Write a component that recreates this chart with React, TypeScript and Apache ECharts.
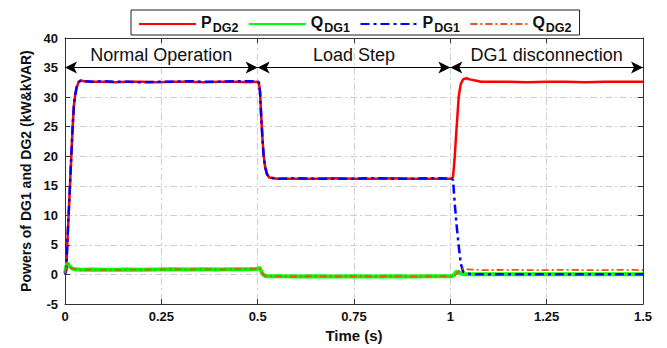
import React, { useEffect, useRef } from "react";
import * as echarts from "echarts";

// Simulation time stamps (s)
const time = [
  0, 0.003, 0.006, 0.0095, 0.013, 0.0165, 0.02, 0.023, 0.026, 0.03, 0.035, 0.041, 0.05,
  0.07, 0.1, 0.13, 0.16, 0.2, 0.24, 0.28, 0.32, 0.36, 0.4, 0.44, 0.48, 0.499,
  0.503, 0.506, 0.509, 0.512, 0.515, 0.519, 0.524, 0.53, 0.55,
  0.6, 0.65, 0.7, 0.75, 0.8, 0.85, 0.9, 0.95, 1.003,
  1.007, 1.011, 1.016, 1.022, 1.027, 1.033, 1.042, 1.05, 1.065, 1.08,
  1.1, 1.15, 1.2, 1.25, 1.3, 1.35, 1.4, 1.45, 1.5,
];

// Active power of DG2 (kW)
const pDG2 = [
  0, 0.8, 5.2, 10.2, 15.2, 20.2, 25.2, 28.5, 30.2, 31.6, 32.5, 32.8, 32.7,
  32.6, 32.6, 32.5, 32.6, 32.6, 32.5, 32.6, 32.6, 32.5, 32.6, 32.6, 32.5, 32.6,
  32.5, 31, 27, 23.5, 20.5, 18.3, 17, 16.4, 16.2,
  16.2, 16.2, 16.3, 16.2, 16.2, 16.3, 16.2, 16.2, 16.2,
  16.5, 19.5, 24.6, 30.2, 32.2, 33, 33.2, 33.0, 32.8, 32.6,
  32.6, 32.6, 32.5, 32.6, 32.6, 32.5, 32.6, 32.6, 32.6,
];

// Active power of DG1 (kW)
const pDG1 = [
  0, 0.8, 5.2, 10.2, 15.2, 20.2, 25.2, 28.5, 30.2, 31.6, 32.5, 32.8, 32.7,
  32.6, 32.7, 32.6, 32.6, 32.5, 32.6, 32.6, 32.7, 32.6, 32.6, 32.7, 32.7, 32.7,
  32.5, 31, 27, 23.5, 20.5, 18.3, 17, 16.4, 16.2,
  16.3, 16.2, 16.2, 16.2, 16.3, 16.2, 16.2, 16.3, 16.2,
  16, 12.4, 8.5, 4.7, 1.9, 0.5, 0.2, 0.1, 0.05, 0.05,
  0.05, 0.05, 0.05, 0.05, 0.05, 0.05, 0.05, 0.05, 0.05,
];

// Reactive power of DG1 (kVAR)
const qDG1 = [
  0.2, 1.2, 1.9, 1.6, 1.3, 1.1, 1.0, 0.95, 0.9, 0.85, 0.85, 0.8, 0.8,
  0.85, 0.8, 0.8, 0.85, 0.8, 0.85, 0.9, 0.85, 0.9, 0.85, 0.9, 0.9, 0.95,
  1.15, 1.0, 0.6, 0.2, -0.05, -0.2, -0.3, -0.3, -0.3,
  -0.35, -0.3, -0.35, -0.3, -0.35, -0.3, -0.35, -0.3, -0.3,
  -0.2, 0.1, 0.5, 0.35, 0.2, 0.1, 0.05, 0.05, 0.05, 0.05,
  0.05, 0.05, 0.05, 0.05, 0.05, 0.05, 0.05, 0.05, 0.05,
];

// Reactive power of DG2 (kVAR)
const qDG2 = [
  0.2, 1.2, 1.9, 1.6, 1.3, 1.1, 1.0, 0.95, 0.9, 0.85, 0.85, 0.8, 0.8,
  0.85, 0.8, 0.8, 0.85, 0.8, 0.85, 0.9, 0.85, 0.9, 0.85, 0.9, 0.9, 0.95,
  1.15, 1.0, 0.6, 0.2, -0.05, -0.2, -0.3, -0.3, -0.3,
  -0.35, -0.3, -0.35, -0.3, -0.35, -0.3, -0.35, -0.3, -0.3,
  -0.3, -0.2, 0.1, 0.5, 0.85, 1.05, 0.9, 0.85, 0.8, 0.75,
  0.75, 0.8, 0.75, 0.75, 0.8, 0.75, 0.75, 0.8, 0.75,
];

// Operating intervals shown above the traces
const phases = [
  { name: "Normal Operation", from: 0, to: 0.5 },
  { name: "Load Step", from: 0.5, to: 1.0 },
  { name: "DG1 disconnection", from: 1.0, to: 1.5 },
];
const phaseLevel = 35;

const legendNames: Record<string, [string, string]> = {
  P_DG2: ["P", "DG2"],
  Q_DG1: ["Q", "DG1"],
  P_DG1: ["P", "DG1"],
  Q_DG2: ["Q", "DG2"],
};

const FONT = "'Liberation Sans', Arial, Helvetica, sans-serif";

const zip = (vals: number[]) => time.map((t, i) => [t, vals[i]]);

export default function App() {
  const ref = useRef<HTMLDivElement>(null);

  useEffect(() => {
    if (!ref.current) return;
    const chart = echarts.init(ref.current, null, { renderer: "svg" });

    const grid = "#cfcfcf";
    const dashDot = [7, 3, 2, 3];

    chart.setOption({
      animation: false,
      backgroundColor: "#ffffff",
      textStyle: { fontFamily: FONT },
      grid: { left: 65, right: 24, top: 38, bottom: 40, containLabel: false },
      legend: {
        data: ["P_DG2", "Q_DG1", "P_DG1", "Q_DG2"],
        left: 131,
        top: 10,
        height: 23,
        padding: [2, 8, 1, 7],
        itemGap: 9.5,
        itemWidth: 57,
        itemHeight: 14,
        borderColor: "#222",
        borderWidth: 1,
        backgroundColor: "#fff",
        itemStyle: { opacity: 0 },
        formatter: (n: string) => {
          const [m, s] = legendNames[n];
          return `{m|${m}}{s|${s}}`;
        },
        textStyle: {
          rich: {
            m: { fontSize: 16, fontWeight: "bold", color: "#111", fontFamily: FONT, lineHeight: 20, verticalAlign: "top" },
            s: { fontSize: 12.5, fontWeight: "bold", color: "#111", fontFamily: FONT, lineHeight: 20, verticalAlign: "bottom", padding: [9, 0, 0, 1] },
          },
        },
      },
      xAxis: [
        {
          type: "value",
          min: 0,
          max: 1.5,
          interval: 0.25,
          name: "Time (s)",
          nameLocation: "middle",
          nameGap: 23,
          nameTextStyle: { fontSize: 15, fontWeight: "bold", color: "#111", fontFamily: FONT },
          axisLine: { show: true, onZero: false, lineStyle: { color: "#333", width: 1 } },
          axisTick: { show: true, inside: true, length: 5, lineStyle: { color: "#333" } },
          axisLabel: { fontSize: 13, fontWeight: "bold", color: "#111", margin: 6, fontFamily: FONT },
          splitLine: { show: true, lineStyle: { color: grid, type: dashDot, width: 1 } },
        },
        {
          type: "value",
          position: "top",
          min: 0,
          max: 1.5,
          interval: 0.25,
          axisLine: { show: true, onZero: false, lineStyle: { color: "#333", width: 1 } },
          axisTick: { show: true, inside: true, length: 5, lineStyle: { color: "#333" } },
          axisLabel: { show: false },
          splitLine: { show: false },
        },
      ],
      yAxis: [
        {
          type: "value",
          min: -5,
          max: 40,
          interval: 5,
          name: "Powers of DG1 and DG2 (kW&kVAR)",
          nameLocation: "middle",
          nameGap: 32,
          nameTextStyle: { fontSize: 14, fontWeight: "bold", color: "#111", fontFamily: FONT },
          axisLine: { show: true, onZero: false, lineStyle: { color: "#333", width: 1 } },
          axisTick: { show: true, inside: true, length: 5, lineStyle: { color: "#333" } },
          axisLabel: { fontSize: 13, fontWeight: "bold", color: "#111", margin: 7, fontFamily: FONT },
          splitLine: { show: true, lineStyle: { color: grid, type: dashDot, width: 1 } },
        },
        {
          type: "value",
          position: "right",
          min: -5,
          max: 40,
          interval: 5,
          axisLine: { show: true, onZero: false, lineStyle: { color: "#333", width: 1 } },
          axisTick: { show: true, inside: true, length: 5, lineStyle: { color: "#333" } },
          axisLabel: { show: false },
          splitLine: { show: false },
        },
      ],
      series: [
        {
          name: "P_DG2",
          type: "line",
          data: zip(pDG2),
          showSymbol: false,
          symbol: "none",
          color: "#ff0000",
          lineStyle: { color: "#ff0000", width: 2.5 },
          z: 2,
          clip: false,
          markLine: {
            silent: true,
            symbol: ["arrow", "arrow"],
            symbolSize: [9, 12],
            lineStyle: { color: "#000", width: 1, type: "solid" },
            label: {
              show: true,
              position: "insideMiddleTop",
              distance: 4,
              formatter: "{b}",
              color: "#111",
              fontSize: 18,
              fontFamily: FONT,
            },
            emphasis: { disabled: true },
            data: phases.map((p) => [
              { name: p.name, coord: [p.from, phaseLevel] },
              { coord: [p.to, phaseLevel] },
            ]),
          },
        },
        {
          name: "Q_DG1",
          type: "line",
          data: zip(qDG1),
          showSymbol: false,
          symbol: "none",
          color: "#00ff00",
          lineStyle: { color: "#00ff00", width: 4 },
          z: 2,
        },
        {
          name: "P_DG1",
          type: "line",
          data: zip(pDG1),
          showSymbol: false,
          symbol: "none",
          color: "#0000ff",
          lineStyle: { color: "#0000ff", width: 2.5, type: [9, 4, 3, 4] },
          z: 3,
        },
        {
          name: "Q_DG2",
          type: "line",
          data: zip(qDG2),
          showSymbol: false,
          symbol: "none",
          color: "#e0561c",
          lineStyle: { color: "#e0561c", width: 1.8, type: [7, 3, 2, 3] },
          z: 3,
        },
      ],
    });

    return () => chart.dispose();
  }, []);

  return (
    <div
      ref={ref}
      style={{ position: "fixed", left: 0, top: 0, width: 667, height: 348 }}
    />
  );
}
